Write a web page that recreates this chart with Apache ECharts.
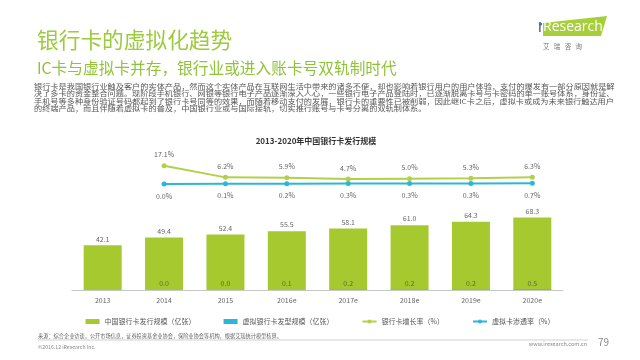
<!DOCTYPE html>
<html>
<head>
<meta charset="utf-8">
<script src="https://cdn.jsdelivr.net/npm/echarts@6/dist/echarts.min.js"></script>
<style>
html,body{margin:0;padding:0;background:#fff;}
#chart{width:640px;height:360px;}
</style>
</head>
<body>
<div id="chart"></div>
<script>
// ---- data ----
var categories = ['2013', '2014', '2015', '2016e', '2017e', '2018e', '2019e', '2020e'];
var issuance = [42.1, 49.4, 52.4, 55.5, 58.1, 61.0, 64.3, 68.3];
var virtualIssuance = ['-', 0.0, 0.0, 0.1, 0.2, 0.2, 0.2, 0.5];
var growthRate = ['-', 17.1, 6.2, 5.9, 4.7, 5.0, 5.3, 6.3];
var penetrationRate = ['-', 0.0, 0.1, 0.2, 0.3, 0.3, 0.3, 0.7];
var seriesNames = ['中国银行卡发行规模（亿张）', '虚拟银行卡发型规模（亿张）', '银行卡增长率（%）', '虚拟卡渗透率（%）'];
var paragraphLines = [
  '银行卡是我国银行业触及客户的实体产品，然而这个实体产品在互联网生活中带来的诸多不便，却也影响着银行用户的用户体验，支付的爆发有一部分原因就是解',
  '决了多卡的资金整合问题。现阶段手机银行、网银等银行电子产品逐渐深入人心，一些银行电子产品登陆时，已逐渐脱离卡号与卡密码的单一账号体系，身份证、',
  '手机号等多种身份验证号码都起到了银行卡号同等的效果，而随着移动支付的发展，银行卡的重要性已被削弱，因此继IC卡之后，虚拟卡或成为未来银行触达用户',
  '的终端产品，而且伴随着虚拟卡的普及，中国银行业或与国际接轨，切实推行账号与卡号分离的双轨制体系。'
];

var FONT = '"Noto Sans CJK SC", "Noto Sans", sans-serif';
var GREEN = '#a6c930';
var LINE_GREEN = '#b3d04a';
var BLUE = '#2cb6d9';

var chart = echarts.init(document.getElementById('chart'), null, {renderer: 'canvas'});

var option = {
  backgroundColor: '#ffffff',
  animation: false,
  textStyle: {fontFamily: FONT},
  title: {
    text: '2013-2020年中国银行卡发行规模',
    left: 311, top: 132, textAlign: 'center',
    textStyle: {fontSize: 8, fontWeight: 'bold', color: '#333', fontFamily: FONT}
  },
  legend: {
    left: 'center', top: 313,
    itemGap: 28, itemWidth: 14, itemHeight: 5,
    textStyle: {fontSize: 7, color: '#555', fontFamily: FONT},
    data: [
      {name: seriesNames[0], icon: 'rect'},
      {name: seriesNames[1], icon: 'rect'},
      {name: seriesNames[2]},
      {name: seriesNames[3]}
    ]
  },
  grid: {left: 72, right: 77, top: 150, bottom: 70, containLabel: false},
  xAxis: {
    type: 'category',
    data: categories,
    axisLine: {lineStyle: {color: '#c8c8c8', width: 1}},
    axisTick: {show: false},
    axisLabel: {fontSize: 7, color: '#666', margin: 7, fontFamily: FONT}
  },
  yAxis: [
    {type: 'value', min: 0, max: 132, show: false, splitLine: {show: false}},
    {type: 'value', min: -100, max: 32, show: false, splitLine: {show: false}}
  ],
  series: [
    {
      name: seriesNames[0], type: 'bar', yAxisIndex: 0,
      data: issuance, barWidth: 38,
      itemStyle: {color: GREEN},
      label: {show: true, position: 'top', distance: 3, fontSize: 7, color: '#666',
        formatter: function (p) { return p.value.toFixed(1); }}
    },
    {
      name: seriesNames[1], type: 'bar', yAxisIndex: 0,
      data: virtualIssuance, barWidth: 38, barGap: '-100%',
      itemStyle: {color: BLUE},
      label: {show: true, position: 'top', distance: 3, fontSize: 7, color: '#5d6b2a',
        formatter: function (p) { return typeof p.value === 'number' ? p.value.toFixed(1) : ''; }}
    },
    {
      name: seriesNames[2], type: 'line', yAxisIndex: 1,
      data: growthRate, symbol: 'circle', symbolSize: 5,
      lineStyle: {color: LINE_GREEN, width: 2},
      itemStyle: {color: LINE_GREEN},
      label: {show: true, position: 'top', distance: 5, fontSize: 7, color: '#666',
        formatter: function (p) { return p.value.toFixed(1) + '%'; }}
    },
    {
      name: seriesNames[3], type: 'line', yAxisIndex: 1,
      data: penetrationRate, symbol: 'circle', symbolSize: 5,
      lineStyle: {color: BLUE, width: 2},
      itemStyle: {color: BLUE},
      label: {show: true, position: 'bottom', distance: 6, fontSize: 7, color: '#666',
        formatter: function (p) { return p.value.toFixed(1) + '%'; }}
    }
  ],
  graphic: [
    {type: 'text', left: 37, top: 29, style: {text: '银行卡的虚拟化趋势', fontSize: 21.7, fill: '#9ccb3b', fontFamily: FONT}},
    {type: 'text', left: 37, top: 60, style: {text: 'IC卡与虚拟卡并存，银行业或进入账卡号双轨制时代', fontSize: 15.7, fill: '#8fc43a', fontFamily: FONT}},
    {type: 'text', x: 34, y: 83, scaleX: 1.24, scaleY: 1, originX: 0, originY: 0,
      style: {text: paragraphLines.join('\n'), fontSize: 6.6, lineHeight: 7.3, fill: '#555', fontFamily: FONT}},
    // logo
    {type: 'polygon', shape: {points: [[543, 23], [607, 16], [601, 36], [543, 36]]}, style: {fill: '#a7cf3a'}},
    {type: 'text', left: 538, top: 20, style: {text: 'i', fontSize: 15, fill: '#3d4a5c', fontFamily: '"Open Sans", sans-serif'}},
    {type: 'circle', shape: {cx: 540.5, cy: 24, r: 1.6}, style: {fill: '#2f6fb5'}},
    {type: 'text', left: 543, top: 20, style: {text: 'Research', fontSize: 14, fill: '#ffffff', fontFamily: '"Open Sans", sans-serif'}},
    {type: 'text', left: 543, top: 43, style: {text: '艾   瑞   咨   询', fontSize: 6.5, fill: '#777', fontFamily: FONT}},
    // footer
    {type: 'text', left: 38, top: 333, style: {text: '来源：综合企业访谈，公开市场信息，证券投资基金业协会，保险业协会等机构，根据艾瑞统计模型核算。', fontSize: 5.2, fill: '#666', fontFamily: FONT}},
    {type: 'line', shape: {x1: 38, y1: 340, x2: 588, y2: 340}, style: {stroke: '#cfcfcf', lineWidth: 1}},
    {type: 'text', left: 38, top: 344, style: {text: '©2016.12 iResearch Inc.', fontSize: 5.2, fill: '#888', fontFamily: FONT}},
    {type: 'text', right: 53, top: 341, style: {text: 'www.iresearch.com.cn', fontSize: 5.5, fill: '#888', fontFamily: FONT}},
    {type: 'text', left: 598, top: 337, style: {text: '79', fontSize: 10, fill: '#888', fontFamily: FONT}}
  ]
};
chart.setOption(option);
</script>
</body>
</html>
